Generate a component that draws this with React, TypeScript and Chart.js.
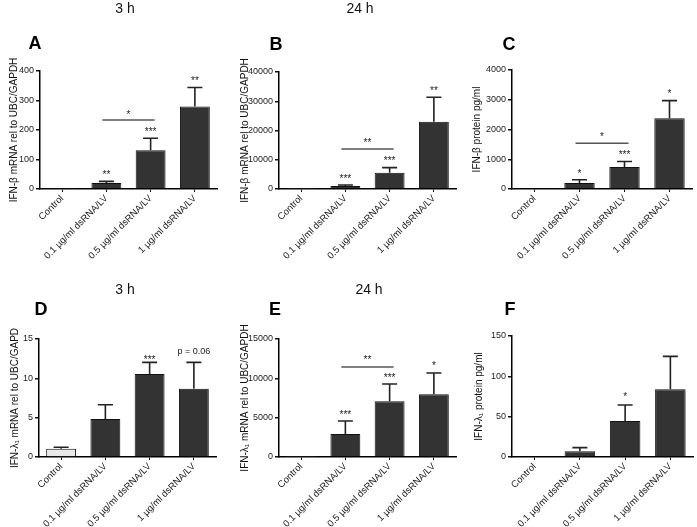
import React, { useEffect, useRef } from 'react';
import { Chart, registerables } from 'chart.js';

Chart.register(...registerables);

const FONT = '"Liberation Sans", Arial, Helvetica, sans-serif';

const categories = ['Control', '0.1 µg/ml dsRNA/LV', '0.5 µg/ml dsRNA/LV', '1 µg/ml dsRNA/LV'];

// Panel A: IFN-β mRNA, 3 h
const aMeans = [1, 20, 131, 280];
const aUpper = [1, 26, 172, 344];
const aTicks = [0, 100, 200, 300, 400];
const aStars = ['', '**', '***', '**'];
const aStarY = [0, 52, 198, 372];

// Panel B: IFN-β mRNA, 24 h
const bMeans = [1, 1030, 5580, 23000];
const bUpper = [1, 1370, 7300, 31350];
const bTicks = [0, 10000, 20000, 30000, 40000];
const bStars = ['', '***', '***', '**'];
const bStarY = [0, 3900, 10250, 33850];

// Panel C: IFN-β protein
const cMeans = [20, 200, 737, 2380];
const cUpper = [20, 312, 925, 2970];
const cTicks = [0, 1000, 2000, 3000, 4000];
const cStars = ['', '*', '***', '*'];
const cStarY = [0, 570, 1183, 3240];

// Panel D: IFN-λ1 mRNA, 3 h
const dMeans = [1.06, 4.83, 10.55, 8.69];
const dUpper = [1.23, 6.65, 12.03, 12.03];
const dTicks = [0, 5, 10, 15];
const dStars = ['', '', '***', 'p = 0.06'];
const dStarY = [0, 0, 12.5, 13.4];

// Panel E: IFN-λ1 mRNA, 24 h
const eMeans = [1, 2920, 7080, 7970];
const eUpper = [1, 4580, 9280, 10680];
const eTicks = [0, 5000, 10000, 15000];
const eStars = ['', '***', '***', '*'];
const eStarY = [0, 5590, 10170, 11820];

// Panel F: IFN-λ1 protein
const fMeans = [1, 7.1, 44.6, 84];
const fUpper = [1, 11.6, 64.5, 124.8];
const fTicks = [0, 50, 100, 150];
const fStars = ['', '', '*', ''];
const fStarY = [0, 0, 76, 0];

// Comparison brackets
const aBracket = { from: 1, to: 2, y: 234, label: '*', labelY: 257 };
const bBracket = { from: 1, to: 2, y: 13700, label: '**', labelY: 16400 };
const cBracket = { from: 1, to: 2, y: 1542, label: '*', labelY: 1787 };
const eBracket = { from: 1, to: 2, y: 11440, label: '**', labelY: 12460 };

const DARK = '#333333';
const LIGHT = '#e8e8e8';

type Bracket = { from: number; to: number; y: number; label: string; labelY: number };
type PanelDef = {
  letter: string;
  letterPos: [number, number];
  title?: string;
  titlePos?: [number, number];
  yTitle: string;
  yTitleX: number;
  means: number[];
  upper: number[];
  ticks: number[];
  stars: string[];
  starY: number[];
  bracket?: Bracket;
  fills: string[];
  box: { left: number; top: number; width: number; height: number };
  plot: { left: number; top: number; bottom: number; right: number };
};

const panels: PanelDef[] = [
  {
    letter: 'A', letterPos: [35, 43], title: '3 h', titlePos: [125, 9],
    yTitle: 'IFN-β mRNA rel to UBC/GAPDH', yTitleX: 14,
    means: aMeans, upper: aUpper, ticks: aTicks, stars: aStars, starY: aStarY, bracket: aBracket,
    fills: [DARK, DARK, DARK, DARK],
    box: { left: 0, top: 0, width: 230, height: 262 },
    plot: { left: 40, top: 71, bottom: 189, right: 217 },
  },
  {
    letter: 'B', letterPos: [276, 44], title: '24 h', titlePos: [360, 9],
    yTitle: 'IFN-β mRNA rel to UBC/GAPDH', yTitleX: 245,
    means: bMeans, upper: bUpper, ticks: bTicks, stars: bStars, starY: bStarY, bracket: bBracket,
    fills: [DARK, DARK, DARK, DARK],
    box: { left: 230, top: 0, width: 230, height: 262 },
    plot: { left: 279, top: 72, bottom: 189, right: 456 },
  },
  {
    letter: 'C', letterPos: [509, 44],
    yTitle: 'IFN-β protein pg/ml', yTitleX: 477,
    means: cMeans, upper: cUpper, ticks: cTicks, stars: cStars, starY: cStarY, bracket: cBracket,
    fills: [DARK, DARK, DARK, DARK],
    box: { left: 460, top: 0, width: 237, height: 262 },
    plot: { left: 512, top: 70, bottom: 189, right: 692 },
  },
  {
    letter: 'D', letterPos: [41, 309], title: '3 h', titlePos: [125, 290],
    yTitle: 'IFN-λ₁ mRNA rel to UBC/GAPD', yTitleX: 15,
    means: dMeans, upper: dUpper, ticks: dTicks, stars: dStars, starY: dStarY,
    fills: [LIGHT, DARK, DARK, DARK],
    box: { left: 0, top: 262, width: 230, height: 265 },
    plot: { left: 39, top: 339, bottom: 457, right: 216 },
  },
  {
    letter: 'E', letterPos: [275, 309], title: '24 h', titlePos: [369, 290],
    yTitle: 'IFN-λ₁ mRNA rel to UBC/GAPDH', yTitleX: 245,
    means: eMeans, upper: eUpper, ticks: eTicks, stars: eStars, starY: eStarY, bracket: eBracket,
    fills: [DARK, DARK, DARK, DARK],
    box: { left: 230, top: 262, width: 230, height: 265 },
    plot: { left: 279, top: 339, bottom: 457, right: 456 },
  },
  {
    letter: 'F', letterPos: [510, 309],
    yTitle: 'IFN-λ₁ protein pg/ml', yTitleX: 479,
    means: fMeans, upper: fUpper, ticks: fTicks, stars: fStars, starY: fStarY,
    fills: [DARK, DARK, DARK, DARK],
    box: { left: 460, top: 262, width: 237, height: 265 },
    plot: { left: 512, top: 336, bottom: 457, right: 693 },
  },
];

function PanelChart({ p }: { p: PanelDef }) {
  const ref = useRef<HTMLCanvasElement | null>(null);
  useEffect(() => {
    const canvas = ref.current;
    if (!canvas) return;
    const { box, plot } = p;
    const ox = box.left;
    const oy = box.top;
    const lineHeight = 12;

    const annotate = {
      id: 'annotate' + p.letter,
      afterDatasetsDraw(chart: any) {
        const ctx = chart.ctx as CanvasRenderingContext2D;
        const xs = chart.scales.x;
        const ys = chart.scales.y;
        ctx.save();
        // error bars (upper only)
        ctx.strokeStyle = '#222';
        ctx.lineWidth = 1.6;
        p.means.forEach((m, i) => {
          const u = p.upper[i];
          if (u <= m) return;
          const x = xs.getPixelForValue(i);
          const y0 = ys.getPixelForValue(m);
          const y1 = ys.getPixelForValue(u);
          ctx.beginPath();
          ctx.moveTo(x, y0);
          ctx.lineTo(x, y1);
          ctx.moveTo(x - 7.5, y1);
          ctx.lineTo(x + 7.5, y1);
          ctx.stroke();
        });
        // significance labels
        ctx.fillStyle = '#222';
        ctx.textAlign = 'center';
        p.stars.forEach((s, i) => {
          if (!s) return;
          const x = xs.getPixelForValue(i);
          const y = ys.getPixelForValue(p.starY[i]);
          if (s.startsWith('p')) {
            ctx.font = `9px ${FONT}`;
            ctx.textBaseline = 'middle';
            ctx.fillText(s, x, y);
          } else {
            ctx.font = `10px ${FONT}`;
            ctx.textBaseline = 'alphabetic';
            ctx.fillText(s, x, y + 4.5);
          }
        });
        // bracket
        if (p.bracket) {
          const b = p.bracket;
          const x1 = xs.getPixelForValue(b.from) - 4;
          const x2 = xs.getPixelForValue(b.to) + 4;
          const y = ys.getPixelForValue(b.y);
          ctx.strokeStyle = '#555';
          ctx.lineWidth = 1.5;
          ctx.beginPath();
          ctx.moveTo(x1, y);
          ctx.lineTo(x2, y);
          ctx.stroke();
          ctx.font = `10px ${FONT}`;
          ctx.textBaseline = 'alphabetic';
          ctx.fillText(b.label, (x1 + x2) / 2, ys.getPixelForValue(b.labelY) + 4.5);
        }
        // time title
        if (p.title && p.titlePos) {
          ctx.fillStyle = '#111';
          ctx.font = `14px ${FONT}`;
          ctx.textBaseline = 'middle';
          ctx.fillText(p.title, p.titlePos[0] - ox, p.titlePos[1] - oy);
        }
        // panel letter
        ctx.fillStyle = '#000';
        ctx.font = `bold 18px ${FONT}`;
        ctx.textBaseline = 'middle';
        ctx.fillText(p.letter, p.letterPos[0] - ox, p.letterPos[1] - oy + 1);
        ctx.restore();
      },
    };

    const chart = new Chart(canvas, {
      type: 'bar',
      data: {
        labels: categories,
        datasets: [
          {
            data: p.means,
            backgroundColor: p.fills,
            borderColor: '#111',
            borderWidth: 1,
            barPercentage: 0.675,
            categoryPercentage: 1,
          },
        ],
      },
      options: {
        responsive: false,
        animation: false,
        devicePixelRatio: 1,
        layout: {
          padding: {
            left: 0,
            top: plot.top - oy,
            right: ox + box.width - plot.right,
            bottom: 0,
          },
        },
        plugins: {
          legend: { display: false },
          tooltip: { enabled: false },
          title: { display: false },
        },
        scales: {
          x: {
            type: 'category',
            offset: true,
            grid: {
              display: true,
              drawOnChartArea: false,
              drawTicks: true,
              tickLength: 3,
              offset: false,
              color: '#111',
              lineWidth: 1,
            },
            border: { display: true, color: '#000', width: 1.5 },
            ticks: {
              autoSkip: false,
              maxRotation: 45,
              minRotation: 45,
              padding: 1,
              color: '#222',
              font: { family: FONT, size: 9.5 },
            },
            afterFit: (scale: any) => {
              scale.height = oy + box.height - plot.bottom;
            },
          },
          y: {
            type: 'linear',
            min: p.ticks[0],
            max: p.ticks[p.ticks.length - 1],
            afterBuildTicks: (scale: any) => {
              scale.ticks = p.ticks.map((v) => ({ value: v }));
            },
            grid: {
              display: true,
              drawOnChartArea: false,
              drawTicks: true,
              tickLength: 4,
              color: '#111',
              lineWidth: 1.5,
            },
            border: { display: true, color: '#000', width: 1.5 },
            ticks: {
              padding: 2,
              color: '#222',
              font: { family: FONT, size: 9 },
              callback: (v: any) => String(v),
            },
            title: {
              display: true,
              text: p.yTitle,
              color: '#111',
              font: { family: FONT, size: 10, lineHeight: 1.2 },
              padding: { top: p.yTitleX - ox - lineHeight / 2, bottom: 0 },
            },
            afterFit: (scale: any) => {
              scale.width = plot.left - ox;
            },
          },
        },
      },
      plugins: [annotate],
    } as any);
    return () => chart.destroy();
  }, [p]);

  return (
    <canvas
      ref={ref}
      width={p.box.width}
      height={p.box.height}
      style={{
        position: 'absolute',
        left: p.box.left,
        top: p.box.top,
        width: p.box.width,
        height: p.box.height,
      }}
    />
  );
}

export default function App() {
  return (
    <div style={{ position: 'absolute', left: 0, top: 0, width: 697, height: 527, background: '#fff' }}>
      {panels.map((p) => (
        <PanelChart key={p.letter} p={p} />
      ))}
    </div>
  );
}
